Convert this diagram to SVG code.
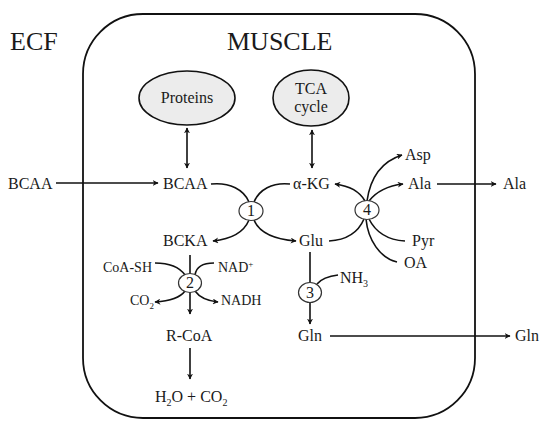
<svg xmlns="http://www.w3.org/2000/svg" width="550" height="429" viewBox="0 0 550 429">
<style>
text{font-family:"Liberation Serif","Times New Roman",serif;font-size:16px;fill:#1a1a1a}
.big{font-size:26px}
.sm{font-size:14px}
.ln{fill:none;stroke:#111;stroke-width:1.6}
.arr{marker-end:url(#ah)}
.dbl{marker-end:url(#ah);marker-start:url(#ahs)}
.node{fill:#ececec;stroke:#111;stroke-width:1.6}
.cir{fill:#fff;stroke:#333;stroke-width:1.2}
</style>
<defs>
<marker id="ah" viewBox="0 0 10 10" refX="9" refY="5" markerWidth="6" markerHeight="6" orient="auto" markerUnits="userSpaceOnUse"><path d="M0,0 L10,5 L0,10 L3,5 z" fill="#111"/></marker>
<marker id="ahs" viewBox="0 0 10 10" refX="1" refY="5" markerWidth="6" markerHeight="6" orient="auto" markerUnits="userSpaceOnUse"><path d="M10,0 L0,5 L10,10 L7,5 z" fill="#111"/></marker>
</defs>
<rect x="0" y="0" width="550" height="429" fill="#fff"/>
<rect id="muscle" x="83" y="14" width="392" height="404" rx="60" ry="60" fill="none" stroke="#111" stroke-width="1.8"/>
<text class="big" x="10" y="50">ECF</text>
<text class="big" x="227" y="50">MUSCLE</text>
<g id="proteins"><ellipse class="node" cx="187" cy="98" rx="48" ry="27"/><text x="187" y="103" text-anchor="middle">Proteins</text></g>
<g id="tca"><ellipse class="node" cx="311" cy="98" rx="38" ry="28"/><text x="311" y="94" text-anchor="middle">TCA</text><text x="311" y="112" text-anchor="middle">cycle</text></g>
<g id="bcaa-out"><text x="8" y="189">BCAA</text></g>
<g id="bcaa"><text x="163" y="189">BCAA</text></g>
<g id="akg"><text x="293" y="189">α-KG</text></g>
<g id="bcka"><text x="163" y="246">BCKA</text></g>
<g id="glu"><text x="299" y="246">Glu</text></g>
<g id="asp"><text x="405" y="160">Asp</text></g>
<g id="ala"><text x="408" y="189">Ala</text></g>
<g id="ala-out"><text x="503" y="189">Ala</text></g>
<g id="pyr"><text x="412" y="246">Pyr</text></g>
<g id="oa"><text x="404" y="268">OA</text></g>
<g id="coash"><text class="sm" x="103" y="272">CoA-SH</text></g>
<g id="nad"><text class="sm" x="218" y="272">NAD<tspan dy="-5" font-size="9">+</tspan></text></g>
<g id="co2"><text class="sm" x="130" y="305">CO<tspan dy="4" font-size="9">2</tspan></text></g>
<g id="nadh"><text class="sm" x="221" y="305">NADH</text></g>
<g id="rcoa"><text x="166" y="341">R-CoA</text></g>
<g id="h2o"><text x="155" y="402">H<tspan dy="4" font-size="10">2</tspan><tspan dy="-4">O + CO</tspan><tspan dy="4" font-size="10">2</tspan></text></g>
<g id="nh3"><text x="340" y="283">NH<tspan dy="4" font-size="10">3</tspan></text></g>
<g id="gln"><text x="298" y="341">Gln</text></g>
<g id="gln-out"><text x="515" y="341">Gln</text></g>
<g id="connectors">
<line class="ln arr" x1="56" y1="183" x2="158" y2="183"/>
<line class="ln dbl" x1="187" y1="128" x2="187" y2="168"/>
<line class="ln dbl" x1="312" y1="130" x2="312" y2="168"/>
<line class="ln arr" x1="437" y1="184" x2="496" y2="184"/>
<line class="ln arr" x1="330" y1="336" x2="510" y2="336"/>
<path class="ln" d="M211,184 C230,182 244,190 249,202"/>
<path class="ln" d="M290,184 C272,182 259,190 254,202"/>
<path class="ln arr" d="M249,220 C244,232 232,239 213,241"/>
<path class="ln arr" d="M254,220 C259,232 272,239 296,241"/>
<path class="ln arr" d="M365,201 C360,192 350,186 335,184"/>
<path class="ln arr" d="M367,201 C370,180 380,162 402,155"/>
<path class="ln arr" d="M369,201 C376,192 386,186 403,184"/>
<path class="ln" d="M364,219 C358,233 347,240 329,241"/>
<path class="ln" d="M369,219 C376,233 388,240 405,241"/>
<path class="ln" d="M366,219 C368,240 380,258 397,262"/>
<line class="ln" x1="190" y1="255" x2="190" y2="274"/>
<line class="ln arr" x1="190" y1="292" x2="190" y2="314"/>
<path class="ln" d="M155,263 C170,263 180,268 185,275"/>
<path class="ln" d="M214,263 C202,263 196,268 195,275"/>
<path class="ln arr" d="M185,291 C180,298 170,301 155,302"/>
<path class="ln arr" d="M195,291 C200,298 208,301 218,302"/>
<line class="ln arr" x1="190" y1="348" x2="190" y2="379"/>
<line class="ln" x1="310" y1="252" x2="310" y2="282"/>
<path class="ln" d="M317,284 C322,278 329,276 338,275"/>
<line class="ln arr" x1="310" y1="303" x2="310" y2="324"/>
</g>
<g id="r1"><ellipse class="cir" cx="251" cy="211" rx="12" ry="9.5"/><text x="251" y="216" text-anchor="middle" font-size="14">1</text></g>
<g id="r4"><ellipse class="cir" cx="367" cy="210" rx="12" ry="9.5"/><text x="367" y="215" text-anchor="middle" font-size="14">4</text></g>
<g id="r2"><ellipse class="cir" cx="190" cy="283" rx="11.5" ry="9.5"/><text x="190" y="288" text-anchor="middle" font-size="14">2</text></g>
<g id="r3"><ellipse class="cir" cx="310" cy="292.5" rx="11.5" ry="10"/><text x="310" y="297.5" text-anchor="middle" font-size="14">3</text></g>
</svg>
